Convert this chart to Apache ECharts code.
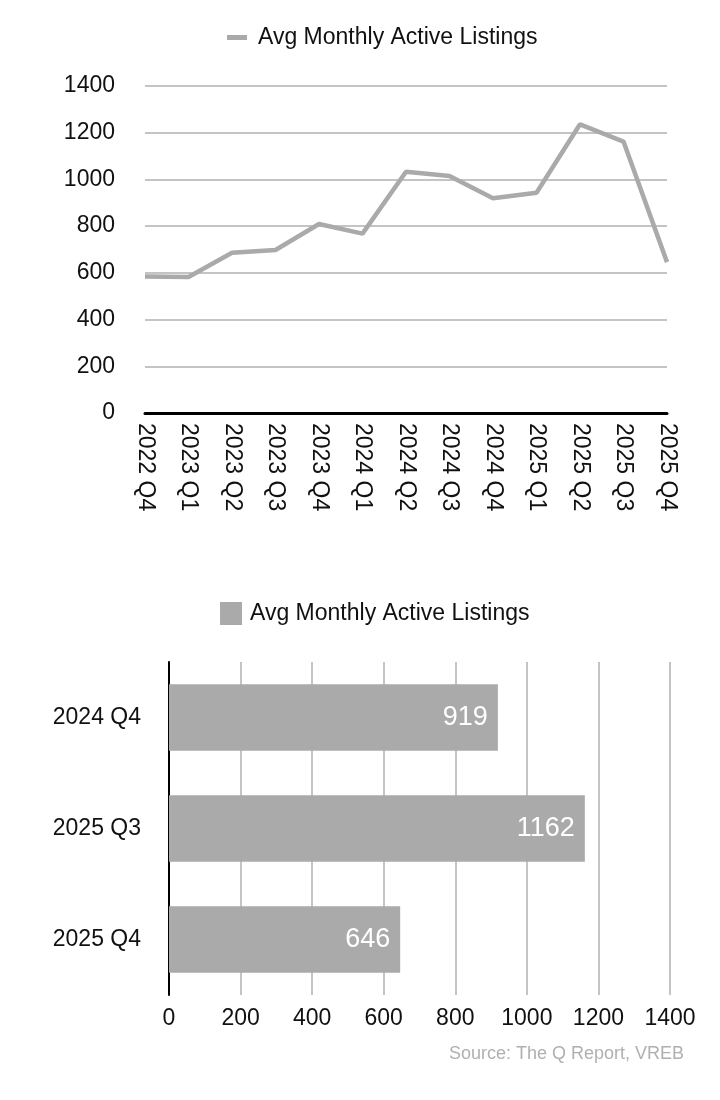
<!DOCTYPE html>
<html>
<head>
<meta charset="utf-8">
<script src="https://cdn.jsdelivr.net/npm/echarts@6/dist/echarts.min.js"></script>
<style>
html,body{margin:0;padding:0;background:#fff;}
#c{width:720px;height:1100px;}
</style>
</head>
<body>
<div id="c"></div>
<script>
const seriesName = 'Avg Monthly Active Listings';
const quarters = ['2022 Q4','2023 Q1','2023 Q2','2023 Q3','2023 Q4','2024 Q1','2024 Q2','2024 Q3','2024 Q4','2025 Q1','2025 Q2','2025 Q3','2025 Q4'];
const listings = [584, 582, 686, 698, 809, 768, 1033, 1015, 919, 943, 1236, 1162, 646];
const barCategories = ['2024 Q4','2025 Q3','2025 Q4'];
const barValues = [919, 1162, 646];
const sourceText = 'Source: The Q Report, VREB';

const FONT = '"Liberation Sans", Arial, Helvetica, sans-serif';
const GRAY = '#aaaaaa';
const GRID = '#c4c4c4';
const plain = v => String(v);

const chart = echarts.init(document.getElementById('c'), null, {renderer:'canvas'});
chart.setOption({
  animation: false,
  textStyle: {fontFamily: FONT},
  legend: [
    {
      left: 222, top: 21,
      icon: 'rect', itemWidth: 20, itemHeight: 5,
      data: [{name: seriesName, itemStyle: {color: GRAY}}],
      textStyle: {fontSize: 23, color: '#111', fontFamily: FONT, padding: [0,0,0,6]},
      selectedMode: false
    },
    {
      left: 215, top: 597,
      icon: 'rect', itemWidth: 22, itemHeight: 23,
      data: [{name: seriesName, itemStyle: {color: GRAY}}],
      textStyle: {fontSize: 23, color: '#111', fontFamily: FONT, padding: [0,0,0,3]},
      selectedMode: false
    }
  ],
  graphic: [{
    type: 'text', right: 36, top: 1045,
    style: {text: sourceText, fill: '#b0b0b0', fontSize: 18, fontFamily: FONT}
  }],
  grid: [
    {left: 145, right: 53, top: 86, bottom: 687},
    {left: 169, right: 50, top: 662, bottom: 105}
  ],
  xAxis: [
    {
      gridIndex: 0, type: 'category', data: quarters, boundaryGap: false,
      axisLine: {lineStyle: {color: '#000', width: 3}},
      axisTick: {show: false},
      axisLabel: {rotate: -90, margin: 10, fontSize: 23, color: '#111', fontFamily: FONT},
      splitLine: {show: false}
    },
    {
      gridIndex: 1, type: 'value', min: 0, max: 1400, interval: 200,
      axisLine: {show: false}, axisTick: {show: false},
      axisLabel: {margin: 12, fontSize: 23, color: '#111', fontFamily: FONT, formatter: plain},
      splitLine: {show: true, lineStyle: {color: GRID, width: 2}}
    }
  ],
  yAxis: [
    {
      gridIndex: 0, type: 'value', min: 0, max: 1400, interval: 200,
      axisLine: {show: false}, axisTick: {show: false},
      axisLabel: {margin: 30, fontSize: 23, color: '#111', fontFamily: FONT, formatter: plain},
      splitLine: {show: true, lineStyle: {color: GRID, width: 2}}
    },
    {
      gridIndex: 1, type: 'category', data: barCategories, inverse: true,
      axisLine: {show: true, lineStyle: {color: '#000', width: 2}},
      axisTick: {show: false},
      axisLabel: {margin: 28, fontSize: 23, color: '#111', fontFamily: FONT},
      splitLine: {show: false}
    }
  ],
  series: [
    {
      name: seriesName, type: 'line', xAxisIndex: 0, yAxisIndex: 0,
      data: listings, showSymbol: false, symbol: 'none',
      lineStyle: {color: GRAY, width: 4.5}, itemStyle: {color: GRAY}
    },
    {
      name: seriesName, type: 'bar', xAxisIndex: 1, yAxisIndex: 1,
      data: barValues, barCategoryGap: '40%',
      itemStyle: {color: GRAY},
      label: {show: true, position: 'insideRight', distance: 10, color: '#fff', fontSize: 27, fontFamily: FONT}
    }
  ]
});
</script>
</body>
</html>
